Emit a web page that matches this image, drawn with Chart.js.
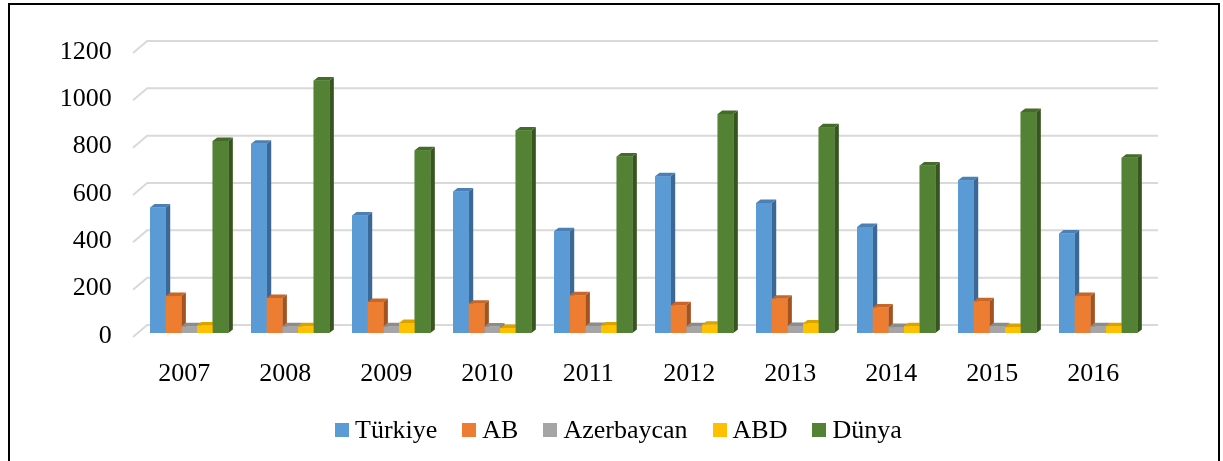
<!DOCTYPE html>
<html>
<head>
<meta charset="utf-8">
<script src="https://cdn.jsdelivr.net/npm/chart.js@4.4.0/dist/chart.umd.min.js"></script>
<style>
  html, body { margin:0; padding:0; background:#fff; }
  .wrap { position:relative; width:1223px; height:461px; overflow:hidden; }
  canvas { position:absolute; left:0; top:0; }
  .frame { position:absolute; left:8px; top:3px; width:1208px; height:520px; border:2px solid #000; pointer-events:none; }
  .legend { position:absolute; left:335px; top:417px; height:26px; display:flex; align-items:center;
            font:26px 'Liberation Serif','Times New Roman',serif; line-height:26px; color:#000; white-space:nowrap; }
  .legend .item { display:flex; align-items:center; margin-right:25px; }
  .legend i { display:inline-block; width:14px; height:14px; margin-right:6px; }
</style>
</head>
<body>
<div class="wrap">
  <canvas id="chart" width="1223" height="461"></canvas>
  <div class="frame"></div>
  <div class="legend" id="legend"></div>
</div>

<script>
// data
const years      = ['2007','2008','2009','2010','2011','2012','2013','2014','2015','2016'];
const turkiye    = [530, 800, 497, 598, 430, 662, 549, 448, 645, 420];
const ab         = [156, 148, 131, 124, 159, 117, 145, 108, 134, 156];
const azerbaycan = [28, 28, 28, 27, 30, 28, 30, 25, 29, 28];
const abd        = [32, 28, 42, 21, 32, 35, 40, 29, 25, 29];
const dunya      = [811, 1067, 772, 856, 746, 925, 869, 708, 934, 741];
const seriesNames = ['Türkiye', 'AB', 'Azerbaycan', 'ABD', 'Dünya'];
const yMax = 1200, yStep = 200;

// excel-ish palette: front / side / top faces
const frontColors = ['#5B9BD5', '#ED7D31', '#A5A5A5', '#FFC000', '#548235'];
const sideColors  = ['#3B6894', '#A3531F', '#747474', '#B58700', '#37561F'];
const topColors   = ['#4A80B4', '#C86628', '#8C8C8C', '#D9A300', '#446B2A'];

const FONT = "'Liberation Serif','Times New Roman',serif";

// fake 3D: back-wall grid + side/top faces on each bar
const bars3d = {
  id: 'bars3d',
  beforeDatasetsDraw(chart) {
    const ctx = chart.ctx, y = chart.scales.y, a = chart.chartArea;
    ctx.save();
    ctx.strokeStyle = '#D9D9D9'; ctx.lineWidth = 2;
    for (let v = 0; v <= yMax; v += yStep) {
      const py = y.getPixelForValue(v);
      ctx.beginPath();
      ctx.moveTo(a.left - 5.7, py + 4);
      ctx.lineTo(a.left + 8.5, py - 8);
      ctx.lineTo(a.right + 9.3, py - 8);
      ctx.stroke();
    }
    ctx.restore();
  },
  afterDatasetsDraw(chart) {
    const ctx = chart.ctx, dx = 4.5, dy = -3.5;
    ctx.save();
    chart.data.datasets.forEach((ds, i) => {
      chart.getDatasetMeta(i).data.forEach(bar => {
        const { x, y, base, width } = bar.getProps(['x', 'y', 'base', 'width'], true);
        const l = x - width / 2, r = x + width / 2;
        ctx.fillStyle = sideColors[i];
        ctx.beginPath();
        ctx.moveTo(r, y); ctx.lineTo(r + dx, y + dy); ctx.lineTo(r + dx, base + dy); ctx.lineTo(r, base);
        ctx.closePath(); ctx.fill();
        ctx.fillStyle = topColors[i];
        ctx.beginPath();
        ctx.moveTo(l, y); ctx.lineTo(l + dx, y + dy); ctx.lineTo(r + dx, y + dy); ctx.lineTo(r, y);
        ctx.closePath(); ctx.fill();
        ctx.fillStyle = frontColors[i];
        ctx.fillRect(l, y, width, base - y);
      });
    });
    ctx.restore();
  }
};

const allSeries = [turkiye, ab, azerbaycan, abd, dunya];

new Chart(document.getElementById('chart'), {
  type: 'bar',
  data: {
    labels: years,
    datasets: allSeries.map((d, i) => ({
      label: seriesNames[i], data: d, backgroundColor: frontColors[i],
      categoryPercentage: 0.775, barPercentage: 1.0, borderWidth: 0
    }))
  },
  options: {
    responsive: false, animation: false, devicePixelRatio: 1,
    layout: { padding: { left: 0, top: 49, right: 74.3, bottom: 68 } },
    plugins: { legend: { display: false }, tooltip: { enabled: false } },
    scales: {
      x: {
        grid: { display: false }, border: { display: false },
        ticks: { color: '#000', font: { family: FONT, size: 26 }, padding: 18, labelOffset: -5, maxRotation: 0 },
        afterFit: s => { s.height = 60; }
      },
      y: {
        min: 0, max: yMax,
        grid: { display: false, drawTicks: false }, border: { display: false },
        ticks: { stepSize: yStep, color: '#000', font: { family: FONT, size: 26 }, padding: 27, labelOffset: 3,
                 callback: v => String(v) },
        afterFit: s => { s.width = 138.7; }
      }
    }
  },
  plugins: [bars3d]
});

// legend as html so spacing follows the reference
const legend = document.getElementById('legend');
seriesNames.forEach((n, i) => {
  const it = document.createElement('span');
  it.className = 'item';
  it.innerHTML = '<i style="background:' + frontColors[i] + '"></i>' + n;
  legend.appendChild(it);
});
</script>
</body>
</html>
